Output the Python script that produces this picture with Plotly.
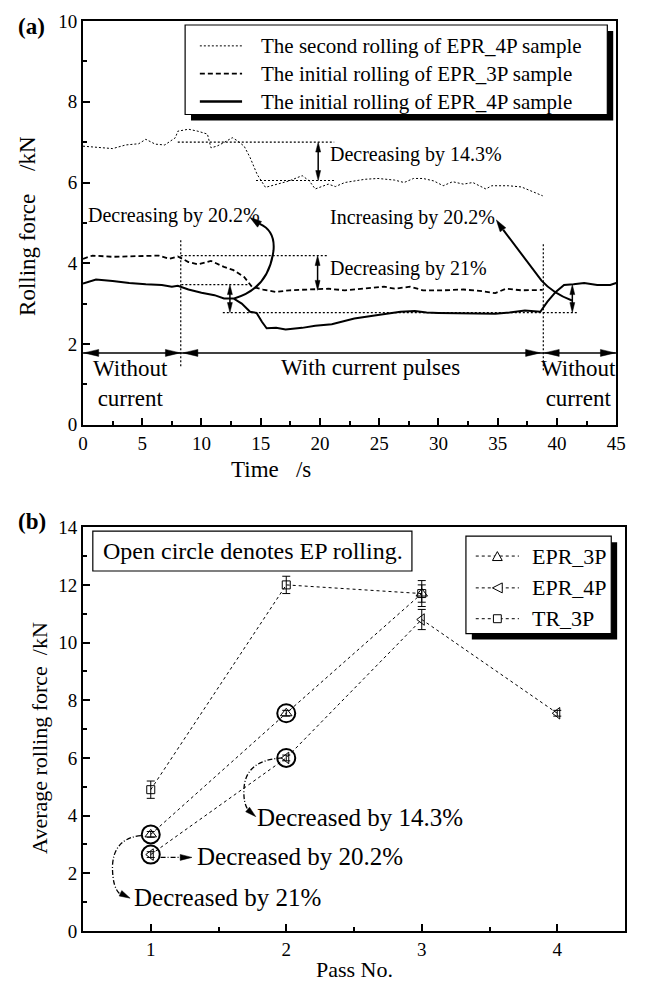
import math
import plotly.graph_objects as go

# ---------------- data: panel (a) ----------------
t_second_4p = [0, 1.4, 2.5, 3.6, 4.7, 5.3, 6.1, 6.9, 7.8, 8.0, 8.9, 9.7, 10.5, 10.8, 11.3, 11.9, 12.6, 13.0,
               13.6, 14.1, 14.7, 15.4, 16.3, 17.4, 18.5, 19.1, 19.6, 20.7, 21.3, 22.1, 23.8, 24.9, 26.3, 27.1,
               27.9, 28.7, 29.6, 30.4, 31.2, 32.1, 32.9, 34.0, 34.5, 35.9, 37.0, 37.9, 38.8]
f_second_4p = [6.9, 6.86, 6.84, 6.93, 6.96, 7.07, 6.95, 6.93, 7.11, 7.27, 7.32, 7.27, 7.2, 6.86, 6.9, 6.99, 7.11, 7.04,
               6.9, 6.62, 6.2, 5.88, 5.96, 6.04, 6.17, 6.04, 5.84, 5.96, 5.9, 6.0, 6.08, 6.1, 6.06, 6.0,
               6.1, 6.1, 6.04, 5.92, 6.02, 5.96, 6.0, 5.84, 5.92, 5.92, 5.89, 5.78, 5.67]

t_initial_3p = [0, 0.8, 2.5, 4.1, 6.4, 7.3, 8.0, 8.9, 9.7, 10.8, 11.9, 12.7, 13.6, 14.25, 15.2, 16.3, 17.4, 19.0,
                20.7, 22.1, 23.8, 25.4, 26.3, 27.6, 28.7, 30.4, 32.1, 33.7, 34.8, 35.7, 37.0, 38.4, 38.8]
f_initial_3p = [4.11, 4.19, 4.16, 4.17, 4.19, 4.11, 4.17, 4.03, 3.97, 4.06, 3.91, 3.83, 3.66, 3.42, 3.35, 3.29, 3.33, 3.35,
                3.37, 3.33, 3.37, 3.42, 3.37, 3.42, 3.33, 3.33, 3.35, 3.31, 3.26, 3.37, 3.33, 3.35, 3.34]

t_initial_4p = [0, 1.1, 2.5, 3.9, 5.3, 6.65, 7.5, 8.0, 8.9, 10.0, 11.1, 11.9, 12.7, 13.4, 14.1, 14.65, 15.1, 15.5,
                16.3, 17.1, 18.5, 19.6, 21.0, 22.9, 24.9, 26.8, 28.0, 29.0, 30.0, 31.7, 33.0, 34.8, 36.0, 37.3,
                38.6, 39.2, 39.9, 40.6, 41.4, 42.3, 43.4, 44.5, 45.0]
f_initial_4p = [3.5, 3.6, 3.56, 3.51, 3.48, 3.46, 3.42, 3.44, 3.35, 3.27, 3.21, 3.13, 3.13, 3.0, 2.8, 2.77, 2.55, 2.39,
                2.4, 2.36, 2.4, 2.45, 2.49, 2.63, 2.72, 2.80, 2.82, 2.78, 2.77, 2.76, 2.76, 2.75, 2.78, 2.83,
                2.80, 3.05, 3.29, 3.46, 3.48, 3.51, 3.46, 3.46, 3.51]

# ---------------- data: panel (b) ----------------
pass_no = [1, 2, 3, 4]
epr_3p = [3.35, 7.55, 11.7]
epr_3p_err = [0.1, 0.1, 0.3]
epr_4p = [2.65, 6.0, 10.8, 7.55]
epr_4p_err = [0.1, 0.1, 0.35, 0.1]
tr_3p = [4.9, 12.0, 11.7]
tr_3p_err = [0.3, 0.3, 0.45]
ep_passes = 2  # first two passes of EPR samples are EP rolling (open circles)

# ---------------- geometry helpers ----------------
W, H = 646, 990
ML, MR, MT, MB = 83, 11, 16, 59
PW = W - ML - MR
PH = H - MT - MB
FONT = "Liberation Serif"


def PX(x):
    return (x - ML) / PW


def PY(y):
    return (H - MB - y) / PH


def seg(x0, y0, x1, y1, width=1.0, dash=None):
    return dict(type="line", xref="paper", yref="paper", x0=PX(x0), y0=PY(y0), x1=PX(x1), y1=PY(y1),
                line=dict(color="black", width=width, dash=dash), layer="above")


def dseg(t0, v0, t1, v1, width=1.0, dash=None):
    return dict(type="line", xref="x", yref="y", x0=t0, y0=v0, x1=t1, y1=v1,
                line=dict(color="black", width=width, dash=dash), layer="above")


def rect(x0, y0, x1, y1, fill="white", lw=1.0):
    return dict(type="rect", xref="paper", yref="paper", x0=PX(x0), y0=PY(y1), x1=PX(x1), y1=PY(y0),
                fillcolor=fill, line=dict(color="black", width=lw), layer="above")


def pth(spec, width=1.0, dash=None, fill=None):
    # each item: (cmd, points...) with exactly the number of points the command takes
    parts = []
    for item in spec:
        cmd = item[0]
        pts = item[1:]
        parts.append(cmd + " ".join(f"{PX(x):.5f},{PY(y):.5f}" for x, y in pts))
    d = dict(type="path", xref="paper", yref="paper", path=" ".join(parts),
             line=dict(color="black", width=width, dash=dash), layer="above")
    if fill:
        d["fillcolor"] = fill
    return d


def head(tx, ty, dx, dy, L=12, Wd=6):
    n = math.hypot(dx, dy)
    ux, uy = dx / n, dy / n
    bx, by = tx - ux * L, ty - uy * L
    nx, ny = -uy, ux
    p1 = (bx + nx * Wd / 2, by + ny * Wd / 2)
    p2 = (bx - nx * Wd / 2, by - ny * Wd / 2)
    return pth([("M", (tx, ty)), ("L", p1), ("L", p2), ("Z",)], width=0.5, fill="black")


def txt(s, x, y, size, xanchor="left", angle=0):
    return dict(text=s, x=PX(x), y=PY(y), xref="paper", yref="paper", xanchor=xanchor, yanchor="middle",
                showarrow=False, textangle=angle, font=dict(family=FONT, size=size, color="black"))


# pixel mapping for panel (a) (used for decoration only)
def AX(t):
    return 83 + t * 543 / 45


def AY(v):
    return 422 - v * 40.6


fig = go.Figure()

# ---------------- traces panel (a) ----------------
fig.add_trace(go.Scatter(x=t_second_4p, y=f_second_4p, mode="lines", name="The second rolling of EPR_4P sample",
                         line=dict(color="black", width=1, dash="2px,2px"), xaxis="x", yaxis="y"))
fig.add_trace(go.Scatter(x=t_initial_3p, y=f_initial_3p, mode="lines", name="The initial rolling of EPR_3P sample",
                         line=dict(color="black", width=1.8, dash="5px,3px"), xaxis="x", yaxis="y"))
fig.add_trace(go.Scatter(x=t_initial_4p, y=f_initial_4p, mode="lines", name="The initial rolling of EPR_4P sample",
                         line=dict(color="black", width=2), xaxis="x", yaxis="y"))

# ---------------- traces panel (b) ----------------
fig.add_trace(go.Scatter(x=pass_no[:len(tr_3p)], y=tr_3p, mode="lines+markers", name="TR_3P",
                         line=dict(color="black", width=1, dash="3px,3px"),
                         marker=dict(symbol="square-open", size=8, color="black", line=dict(width=1)),
                         error_y=dict(type="data", array=tr_3p_err, color="black", thickness=1, width=4),
                         xaxis="x2", yaxis="y2"))
fig.add_trace(go.Scatter(x=pass_no[:len(epr_3p)], y=epr_3p, mode="lines+markers", name="EPR_3P",
                         line=dict(color="black", width=1, dash="3px,3px"),
                         marker=dict(symbol="triangle-up-open", size=10, color="black", line=dict(width=1)),
                         error_y=dict(type="data", array=epr_3p_err, color="black", thickness=1, width=4),
                         xaxis="x2", yaxis="y2"))
fig.add_trace(go.Scatter(x=pass_no, y=epr_4p, mode="lines+markers", name="EPR_4P",
                         line=dict(color="black", width=1, dash="3px,3px"),
                         marker=dict(symbol="triangle-left-open", size=10, color="black", line=dict(width=1)),
                         error_y=dict(type="data", array=epr_4p_err, color="black", thickness=1, width=4),
                         xaxis="x2", yaxis="y2"))
circ_x = pass_no[:ep_passes] + pass_no[:ep_passes]
circ_y = epr_3p[:ep_passes] + epr_4p[:ep_passes]
fig.add_trace(go.Scatter(x=circ_x, y=circ_y, mode="markers", name="EP rolling",
                         marker=dict(symbol="circle-open", size=18, color="black", line=dict(width=2)),
                         xaxis="x2", yaxis="y2"))

shapes = []
ann = []

# ---------------- decorations panel (a) ----------------
dot = "2px,2px"
shapes += [
    dseg(8.0, 7.0, 21.2, 7.0, 1.2, dot),
    dseg(14.6, 6.05, 21.2, 6.05, 1.2, dot),
    dseg(8.25, 4.19, 20.7, 4.19, 1.2, dot),
    dseg(8.3, 3.47, 14.0, 3.47, 1.2, dot),
    dseg(11.8, 2.78, 41.7, 2.78, 1.2, dot),
    dseg(8.25, 1.45, 8.25, 4.6, 1.2, dot),
    dseg(38.85, 1.35, 38.85, 4.5, 1.2, dot),
    dseg(0, 1.78, 45, 1.78, 1.5),
]
# vertical double arrows
for t, v0, v1 in [(19.85, 7.0, 6.05), (19.8, 4.19, 3.33), (12.4, 3.47, 2.78), (41.3, 3.47, 2.78)]:
    x = AX(t)
    ya, yb = AY(v0), AY(v1)
    shapes.append(seg(x, ya + 4, x, yb - 4, 1.5))
    shapes.append(head(x, ya, 0, -1, L=10, Wd=5))
    shapes.append(head(x, yb, 0, 1, L=10, Wd=5))
# horizontal arrows on the current line
yl = AY(1.78)
for tx, d in [(AX(0) + 1, -1), (AX(8.2), 1), (AX(8.45), -1), (AX(38.6), 1), (AX(38.95), -1), (AX(45) - 1, 1)]:
    shapes.append(head(tx, yl, d, 0, L=15, Wd=7))
# curved arrows
shapes.append(pth([("M", (237, 295)), ("Q", (272, 285), (277, 247)), ("Q", (279, 227), (263, 220))], width=2))
shapes.append(head(253, 213.5, -12, -8.5, L=12, Wd=7))
shapes.append(pth([("M", (581, 297)), ("Q", (562, 290), (550, 277)), ("L", (511, 226))], width=2))
shapes.append(head(504, 216, -33, -49, L=12, Wd=7))

# legend (a)
shapes.append(rect(193, 26, 623, 116, fill="black", lw=0))
shapes.append(rect(187, 20, 617, 110, fill="white", lw=1.2))
shapes.append(seg(202, 41, 245, 41, 1, "2px,2px"))
shapes.append(seg(202, 69, 245, 69, 1.8, "5px,3px"))
shapes.append(seg(202, 97, 245, 97, 2.5))
ann += [
    txt("The second rolling of EPR_4P sample", 262, 41, 21),
    txt("The initial rolling of EPR_3P sample", 262, 69, 21),
    txt("The initial rolling of EPR_4P sample", 262, 97, 21),
    txt("Decreasing by 14.3%", 333, 150, 20),
    txt("Decreasing by 20.2%", 86, 212, 20),
    txt("Increasing by 20.2%", 333, 214, 20),
    txt("Decreasing by 21%", 333, 265, 20),
    txt("Without<br>current", 131, 380, 23, xanchor="center"),
    txt("With current pulses", 376, 364, 23, xanchor="center"),
    txt("Without<br>current", 588, 380, 23, xanchor="center"),
    txt("<b>(a)</b>", 15, 22, 23),
    txt("Rolling force\u00a0\u00a0\u00a0\u00a0/kN", 27, 222, 23, xanchor="center", angle=-90),
    txt("Time\u00a0\u00a0\u00a0/s", 274, 467, 23, xanchor="center"),
]

# ---------------- decorations panel (b) ----------------
shapes.append(rect(93, 529, 418, 569, fill="white", lw=1.2))
ann.append(txt("Open circle denotes EP rolling.", 101, 549, 24))
shapes.append(rect(479, 540, 627, 638, fill="black", lw=0))
shapes.append(rect(473, 534, 621, 632, fill="white", lw=1.2))
for yy in (554, 586, 617):
    shapes.append(seg(483, yy, 527, yy, 1, "3px,3px"))
shapes.append(pth([("M", (500, 558.5)), ("L", (510, 558.5)), ("L", (505, 549.5)), ("Z",)], width=1, fill="white"))
shapes.append(pth([("M", (510, 581)), ("L", (510, 591)), ("L", (500, 586)), ("Z",)], width=1, fill="white"))
shapes.append(rect(501, 613, 509, 621, fill="white", lw=1))
ann += [
    txt("EPR_3P", 538, 554, 22),
    txt("EPR_4P", 538, 586, 22),
    txt("TR_3P", 538, 617, 22),
]
dd = "5px,2px,1px,2px"
shapes.append(pth([("M", (286, 757)), ("Q", (249, 759), (247, 787)), ("Q", (246, 802), (251, 809))], width=1.3, dash=dd))
shapes.append(head(259, 816, 7, 6, L=11, Wd=6))
shapes.append(seg(162, 857, 183, 857, 1.3, dd))
shapes.append(head(194, 857, 1, 0, L=12, Wd=6))
shapes.append(pth([("M", (142, 835)), ("Q", (114, 838), (113, 866)), ("Q", (113, 888), (121, 894))], width=1.3, dash=dd))
shapes.append(head(131, 898, 6, 3, L=11, Wd=6))
ann += [
    txt("Decreased by 14.3%", 258, 817, 25),
    txt("Decreased by 20.2%", 197, 856, 25),
    txt("Decreased by 21%", 133, 897, 25),
    txt("<b>(b)</b>", 15, 519, 23),
    txt("Average rolling force\u00a0\u00a0/kN", 38, 737, 22, xanchor="center", angle=-90),
    txt("Pass No.", 360, 970, 22, xanchor="center"),
]

axis_common = dict(showline=True, linecolor="black", linewidth=2, mirror=True, ticks="inside", ticklen=7,
                   tickwidth=2, tickcolor="black", showgrid=False, zeroline=False,
                   tickfont=dict(family=FONT, size=19, color="black"))

fig.update_layout(
    width=W, height=H, margin=dict(l=ML, r=MR, t=MT, b=MB),
    paper_bgcolor="white", plot_bgcolor="white", showlegend=False,
    xaxis=dict(domain=[0, 543 / 552], range=[0, 45], dtick=5, tick0=0, anchor="y",
               minor=dict(ticks="inside", ticklen=4, tickwidth=1.5, tickcolor="black", dtick=2.5, tick0=0),
               **axis_common),
    yaxis=dict(domain=[PY(422), 1], range=[0, 10], dtick=2, tick0=0, anchor="x",
               minor=dict(ticks="inside", ticklen=4, tickwidth=1.5, tickcolor="black", dtick=1, tick0=0),
               **axis_common),
    xaxis2=dict(domain=[0, 1], range=[0.5, 4.5], dtick=1, tick0=0, anchor="y2",
                minor=dict(ticks="inside", ticklen=4, tickwidth=1.5, tickcolor="black", dtick=0.5, tick0=0),
                **axis_common),
    yaxis2=dict(domain=[0, PY(525)], range=[0, 14], dtick=2, tick0=0, anchor="x2",
                minor=dict(ticks="inside", ticklen=4, tickwidth=1.5, tickcolor="black", dtick=1, tick0=0),
                **axis_common),
    shapes=shapes,
    annotations=ann,
)

fig.write_html("out.html")
